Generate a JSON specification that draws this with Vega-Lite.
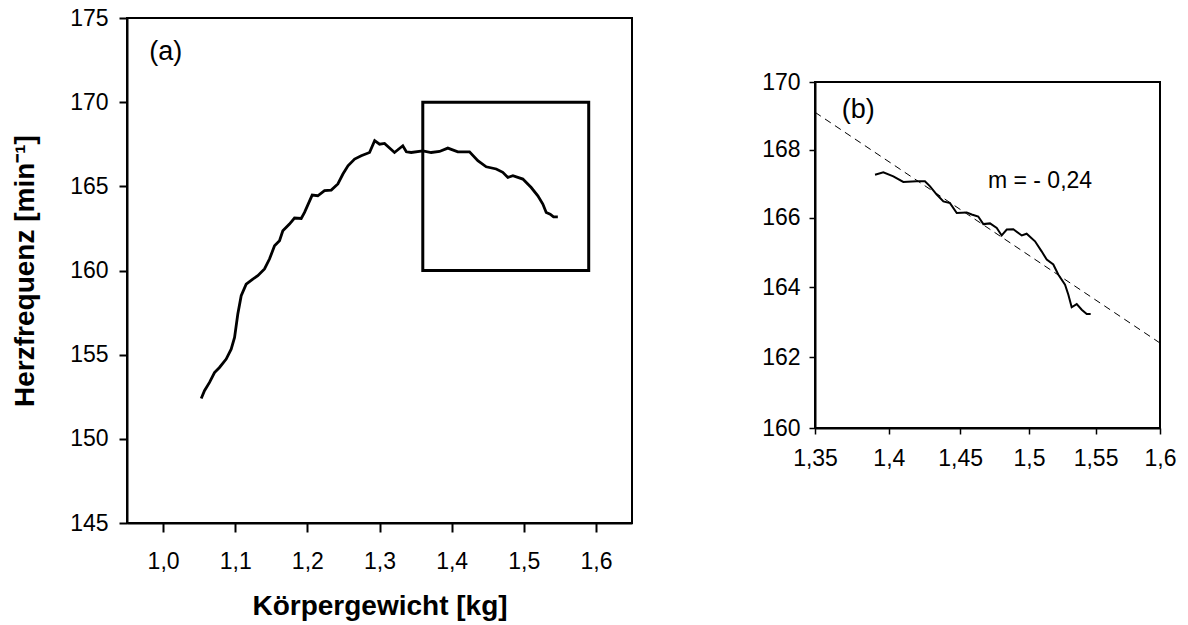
{
  "$schema": "https://vega.github.io/schema/vega-lite/v6.json",
  "padding": {"left": 10, "top": 6, "right": 5, "bottom": 0},
  "background": "white",
  "config": {
    "font": "Liberation Sans",
    "view": {"stroke": "black", "strokeWidth": 2},
    "axis": {"grid": false, "labelFlush": false, "domainColor": "black", "tickColor": "black", "labelColor": "black", "titleColor": "black", "labelFont": "Liberation Sans", "titleFont": "Liberation Sans"}
  },
  "datasets": {
    "a": [
      {"x": 1.0529, "y": 152.4}, {"x": 1.0574, "y": 152.86}, {"x": 1.0644, "y": 153.35}, {"x": 1.0713, "y": 153.94},
      {"x": 1.0782, "y": 154.24}, {"x": 1.0875, "y": 154.74}, {"x": 1.0944, "y": 155.33}, {"x": 1.0991, "y": 156.02},
      {"x": 1.1036, "y": 157.41}, {"x": 1.1083, "y": 158.5}, {"x": 1.1152, "y": 159.19}, {"x": 1.1244, "y": 159.49},
      {"x": 1.1313, "y": 159.69}, {"x": 1.1406, "y": 160.09}, {"x": 1.1475, "y": 160.68}, {"x": 1.1545, "y": 161.47},
      {"x": 1.1614, "y": 161.77}, {"x": 1.166, "y": 162.36}, {"x": 1.1752, "y": 162.76}, {"x": 1.1822, "y": 163.12},
      {"x": 1.1915, "y": 163.09}, {"x": 1.1961, "y": 163.45}, {"x": 1.2067, "y": 164.48}, {"x": 1.2145, "y": 164.44},
      {"x": 1.2238, "y": 164.74}, {"x": 1.2331, "y": 164.78}, {"x": 1.2423, "y": 165.14}, {"x": 1.2493, "y": 165.73},
      {"x": 1.2563, "y": 166.22}, {"x": 1.2655, "y": 166.62}, {"x": 1.2747, "y": 166.82}, {"x": 1.2862, "y": 167.01},
      {"x": 1.2933, "y": 167.71}, {"x": 1.3001, "y": 167.5}, {"x": 1.307, "y": 167.55}, {"x": 1.3208, "y": 167.01},
      {"x": 1.3323, "y": 167.41}, {"x": 1.3372, "y": 167.05}, {"x": 1.344, "y": 167.01}, {"x": 1.36, "y": 167.11},
      {"x": 1.3717, "y": 167.01}, {"x": 1.3832, "y": 167.07}, {"x": 1.3947, "y": 167.27}, {"x": 1.4086, "y": 167.05},
      {"x": 1.4248, "y": 167.05}, {"x": 1.4363, "y": 166.52}, {"x": 1.4479, "y": 166.16}, {"x": 1.4618, "y": 166.03},
      {"x": 1.4709, "y": 165.83}, {"x": 1.4779, "y": 165.53}, {"x": 1.4849, "y": 165.63}, {"x": 1.4987, "y": 165.43},
      {"x": 1.5103, "y": 164.93}, {"x": 1.5195, "y": 164.44}, {"x": 1.5264, "y": 163.95}, {"x": 1.5311, "y": 163.45},
      {"x": 1.5366, "y": 163.35}, {"x": 1.5412, "y": 163.19}, {"x": 1.5472, "y": 163.19}
    ],
    "b": [
      {"x": 1.3905, "y": 167.26}, {"x": 1.3962, "y": 167.33}, {"x": 1.4031, "y": 167.21}, {"x": 1.41, "y": 167.05},
      {"x": 1.4193, "y": 167.07}, {"x": 1.4251, "y": 167.07}, {"x": 1.4287, "y": 166.92}, {"x": 1.4334, "y": 166.68},
      {"x": 1.4381, "y": 166.48}, {"x": 1.4428, "y": 166.43}, {"x": 1.4476, "y": 166.14}, {"x": 1.4547, "y": 166.16},
      {"x": 1.4583, "y": 166.1}, {"x": 1.463, "y": 166.04}, {"x": 1.4667, "y": 165.82}, {"x": 1.4715, "y": 165.84},
      {"x": 1.4764, "y": 165.71}, {"x": 1.48, "y": 165.49}, {"x": 1.4837, "y": 165.66}, {"x": 1.4885, "y": 165.67},
      {"x": 1.4947, "y": 165.49}, {"x": 1.4983, "y": 165.54}, {"x": 1.5045, "y": 165.32}, {"x": 1.5094, "y": 165.03},
      {"x": 1.5132, "y": 164.79}, {"x": 1.5181, "y": 164.65}, {"x": 1.5218, "y": 164.36}, {"x": 1.5269, "y": 164.07},
      {"x": 1.5294, "y": 163.78}, {"x": 1.5319, "y": 163.42}, {"x": 1.5357, "y": 163.51}, {"x": 1.5395, "y": 163.35},
      {"x": 1.5433, "y": 163.23}, {"x": 1.5463, "y": 163.23}
    ],
    "fit": [{"x": 1.35, "y": 169.1}, {"x": 1.6, "y": 162.4}],
    "box": [{"x": 1.36, "x2": 1.59, "y": 160, "y2": 170}],
    "labelA": [{"x": 0.981, "y": 173.0, "t": "(a)"}],
    "labelB": [{"x": 1.3679, "y": 169.16, "t": "(b)"}],
    "labelM": [{"x": 1.47, "y": 167.07, "t": "m = - 0,24"}],
    "spacer": [{"v": 0}, {"v": 1}]
  },
  "spacing": 127,
  "hconcat": [
    {
      "width": 505,
      "height": 505,
      "encoding": {
        "x": {"field": "x", "type": "quantitative",
          "scale": {"domain": [0.95, 1.65], "nice": false, "zero": false},
          "axis": {"values": [1.0, 1.1, 1.2, 1.3, 1.4, 1.5, 1.6], "labelExpr": "replace(format(datum.value, '.1f'), '.', ',')",
            "title": "Körpergewicht [kg]", "titleFontSize": 28, "titleFontWeight": "bold", "titlePadding": 19,
            "labelFontSize": 23, "tickSize": 9, "tickWidth": 2, "domainWidth": 2, "labelPadding": 18}},
        "y": {"field": "y", "type": "quantitative",
          "scale": {"domain": [145, 175], "nice": false, "zero": false},
          "axis": {"values": [145, 150, 155, 160, 165, 170, 175],
            "title": "Herzfrequenz [min⁻¹]", "titleFontSize": 28, "titleFontWeight": "bold", "titlePadding": 30,
            "labelFontSize": 23, "tickSize": 8, "tickWidth": 2, "domainWidth": 2, "labelPadding": 11}}
      },
      "layer": [
        {
          "data": {"name": "a"},
          "mark": {"type": "line", "color": "black", "strokeWidth": 2.8}
        },
        {
          "data": {"name": "box"},
          "mark": {"type": "rect", "fill": null, "fillOpacity": 0, "stroke": "black", "strokeWidth": 3},
          "encoding": {
            "x2": {"field": "x2"},
            "y2": {"field": "y2"}
          }
        },
        {
          "data": {"name": "labelA"},
          "mark": {"type": "text", "align": "left", "baseline": "middle", "fontSize": 27, "color": "black"},
          "encoding": {
            "text": {"field": "t"}
          }
        }
      ]
    },
    {
      "spacing": 10,
      "vconcat": [
        {
          "width": 345,
          "height": 41,
          "view": {"stroke": null},
          "data": {"name": "spacer"},
          "mark": {"type": "tick", "opacity": 0},
          "encoding": {"y": {"field": "v", "type": "quantitative", "axis": null}}
        },
        {
          "width": 345,
          "height": 346,
          "encoding": {
            "x": {"field": "x", "type": "quantitative",
              "scale": {"type": "log", "domain": [1.35, 1.6], "nice": false, "zero": false},
              "axis": {"values": [1.35, 1.4, 1.45, 1.5, 1.55, 1.6], "labelExpr": "replace(format(datum.value, '.3~g'), '.', ',')",
                "title": null, "labelFontSize": 23, "tickSize": 6, "tickWidth": 1.5, "domainWidth": 2, "labelPadding": 13}},
            "y": {"field": "y", "type": "quantitative",
              "scale": {"type": "log", "domain": [160, 170], "nice": false, "zero": false},
              "axis": {"values": [160, 162, 164, 166, 168, 170], "labelExpr": "format(datum.value, 'd')",
                "title": null, "labelFontSize": 23, "tickSize": 6, "tickWidth": 1.5, "domainWidth": 2, "labelPadding": 9}}
          },
          "layer": [
            {
              "data": {"name": "b"},
              "mark": {"type": "line", "color": "black", "strokeWidth": 2}
            },
            {
              "data": {"name": "fit"},
              "mark": {"type": "line", "color": "black", "strokeWidth": 1, "strokeDash": [7, 5]}
            },
            {
              "data": {"name": "labelB"},
              "mark": {"type": "text", "align": "left", "baseline": "middle", "fontSize": 27, "color": "black"},
              "encoding": {"text": {"field": "t"}}
            },
            {
              "data": {"name": "labelM"},
              "mark": {"type": "text", "align": "left", "baseline": "middle", "fontSize": 23, "color": "black"},
              "encoding": {"text": {"field": "t"}}
            }
          ]
        }
      ]
    }
  ]
}
